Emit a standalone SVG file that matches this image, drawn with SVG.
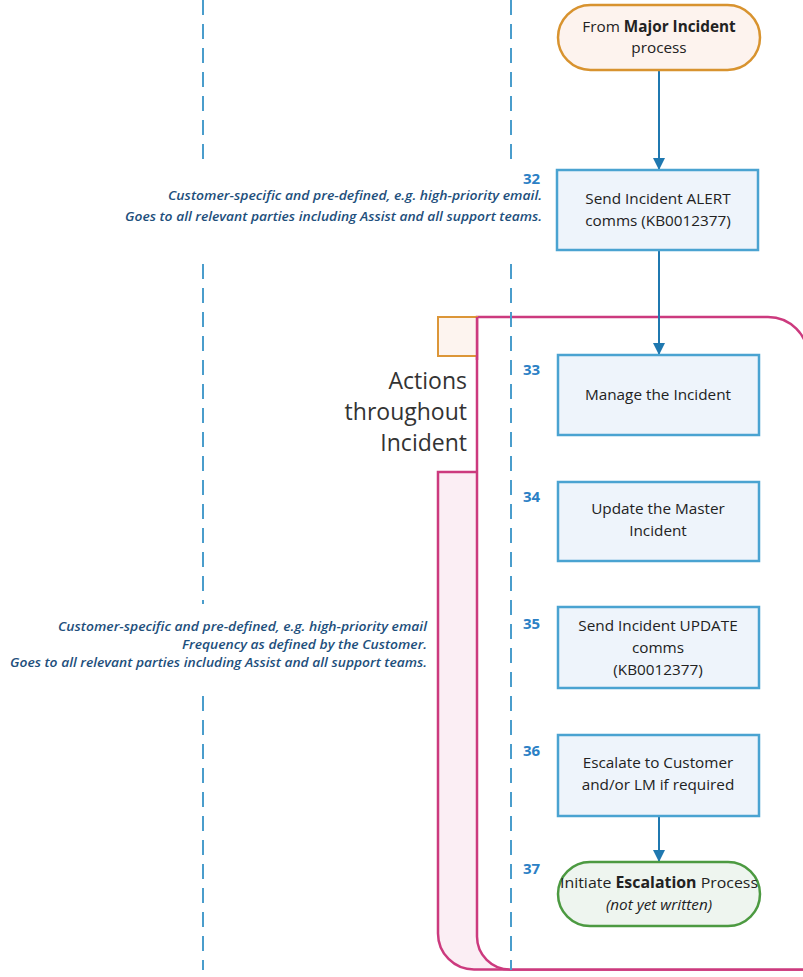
<svg xmlns="http://www.w3.org/2000/svg" width="803" height="977" viewBox="0 0 803 977">
<defs>
<style>
.lane{stroke:#4a9dcc;stroke-width:2;stroke-dasharray:15 9;fill:none}
.proc{fill:#eef4fb;stroke:#4aa3d1;stroke-width:2.5}
.txt{font-family:"Open Sans","Liberation Sans",sans-serif;font-size:15.3px;fill:#222;text-anchor:middle}
.num{font-family:"Open Sans","Liberation Sans",sans-serif;font-size:15px;font-weight:bold;fill:#2b80c5}
.note{font-family:"Open Sans","Liberation Sans",sans-serif;font-size:12px;font-style:italic;font-weight:600;fill:#1e4f7c;text-anchor:end}
.conn{stroke:#1f78b0;stroke-width:2;fill:none;marker-end:url(#ah)}
.pink{stroke:#cc3a7e;stroke-width:2.5}
</style>
<marker id="ah" markerWidth="12" markerHeight="12" viewBox="0 0 12 12" refX="12" refY="6" orient="auto" markerUnits="userSpaceOnUse">
<path d="M0,0 L12,6 L0,12 Z" fill="#1f78b0"/>
</marker>
</defs>
<rect width="803" height="977" fill="#ffffff"/>

<g id="container">
<path class="pink" d="M438,472 H840 V969.5 H474 A36,36 0 0 1 438,933.5 Z" fill="#fbeef4"/>
<path class="pink" d="M477,317 H768 A40,40 0 0 1 808,357 V969.5 H510 A33,33 0 0 1 477,936.5 Z" fill="#ffffff"/>
<rect x="438" y="317" width="39" height="39" fill="#fdf4ef" stroke="#dc9638" stroke-width="2"/>
<line x1="477" y1="317" x2="477" y2="360" class="pink"/>
<text font-family="'Open Sans','Liberation Sans',sans-serif" font-size="23" fill="#333" text-anchor="end"><tspan x="467" y="389">Actions</tspan><tspan x="467" y="420">throughout</tspan><tspan x="467" y="451">Incident</tspan></text>
</g>

<g id="lanes">
<line class="lane" x1="203" y1="0" x2="203" y2="970"/>
<line class="lane" x1="511" y1="0" x2="511" y2="970"/>
<rect x="120" y="167" width="425" height="96" fill="#ffffff"/>
<rect x="0" y="604" width="435" height="87" fill="#ffffff"/>
</g>

<g id="notes">
<text class="note" x="542" y="200" textLength="374" lengthAdjust="spacingAndGlyphs">Customer-specific and pre-defined, e.g. high-priority email.</text>
<text class="note" x="542" y="221" textLength="417" lengthAdjust="spacingAndGlyphs">Goes to all relevant parties including Assist and all support teams.</text>
<text class="note" x="427" y="631" textLength="369" lengthAdjust="spacingAndGlyphs">Customer-specific and pre-defined, e.g. high-priority email</text>
<text class="note" x="427" y="649" textLength="245" lengthAdjust="spacingAndGlyphs">Frequency as defined by the Customer.</text>
<text class="note" x="427" y="667" textLength="417" lengthAdjust="spacingAndGlyphs">Goes to all relevant parties including Assist and all support teams.</text>
</g>

<g id="connectors">
<line class="conn" x1="659" y1="70" x2="659" y2="170"/>
<line class="conn" x1="659" y1="250" x2="659" y2="355"/>
<line class="conn" x1="659" y1="816" x2="659" y2="862"/>
</g>

<g id="start">
<rect x="558" y="5" width="202" height="65" rx="32.5" fill="#fdf3ee" stroke="#d8932f" stroke-width="2.5"/>
<text class="txt"><tspan x="659" y="32">From <tspan font-weight="bold">Major Incident</tspan></tspan><tspan x="659" y="53">process</tspan></text>
</g>

<g id="n32">
<rect class="proc" x="557" y="170" width="201" height="80"/>
<text class="txt"><tspan x="658" y="204">Send Incident ALERT</tspan><tspan x="658" y="226">comms (KB0012377)</tspan></text>
<text class="num" x="523" y="184">32</text>
</g>

<g id="n33">
<rect class="proc" x="558" y="355" width="201" height="80"/>
<text class="txt" x="658" y="400">Manage the Incident</text>
<text class="num" x="523" y="375">33</text>
</g>

<g id="n34">
<rect class="proc" x="558" y="482" width="201" height="79"/>
<text class="txt"><tspan x="658" y="514">Update the Master</tspan><tspan x="658" y="536">Incident</tspan></text>
<text class="num" x="523" y="502">34</text>
</g>

<g id="n35">
<rect class="proc" x="558" y="607" width="201" height="81"/>
<text class="txt"><tspan x="658" y="631">Send Incident UPDATE</tspan><tspan x="658" y="653">comms</tspan><tspan x="658" y="675">(KB0012377)</tspan></text>
<text class="num" x="523" y="629">35</text>
</g>

<g id="n36">
<rect class="proc" x="558" y="735" width="201" height="81"/>
<text class="txt"><tspan x="658" y="768">Escalate to Customer</tspan><tspan x="658" y="790">and/or LM if required</tspan></text>
<text class="num" x="523" y="756">36</text>
</g>

<g id="n37">
<rect x="558" y="862" width="202" height="64" rx="32" fill="#eef5ef" stroke="#4c9a41" stroke-width="2.5"/>
<text class="txt" x="659" y="888" textLength="198" lengthAdjust="spacingAndGlyphs">Initiate <tspan font-weight="bold">Escalation</tspan> Process</text>
<text class="txt" x="659" y="910" font-style="italic">(not yet written)</text>
<text class="num" x="523" y="874">37</text>
</g>
</svg>
